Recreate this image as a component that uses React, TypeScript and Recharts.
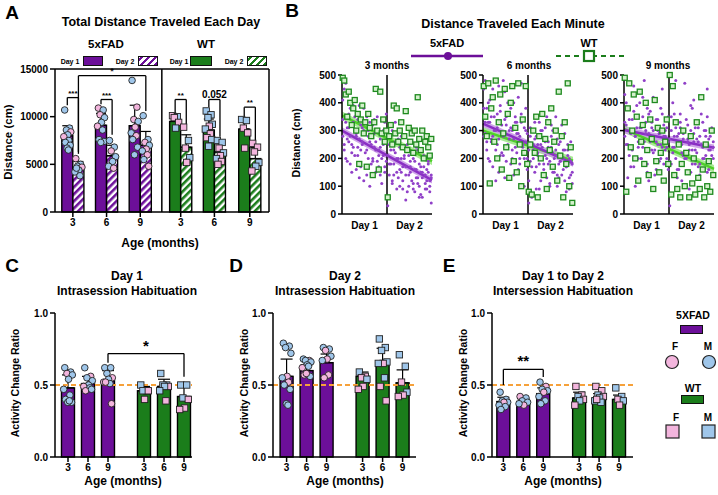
import React from "react";
import {
  ComposedChart,
  Bar,
  Scatter,
  Line,
  Area,
  XAxis,
  YAxis,
  ReferenceLine,
  ErrorBar,
} from "recharts";

const PURPLE = "#6c0f99";
const GREEN = "#1b7d1b";
const PINK = "#f3b5dd";
const BLUE = "#9fc6ea";
const ORANGE = "#f6a13a";
const FONT = "'Liberation Sans', Arial, sans-serif";

type Sex = "F" | "M";
type Pt = [number, Sex];

const AGE_LABELS = ["3", "6", "9", "3", "6", "9"];

// ---- Panel A: total distance per day (cm)
const A_POS = [0, 1, 2, 3.2, 4.2, 5.25];
const A_D1_MEAN = [8000, 9100, 9050, 9500, 8600, 8700];
const A_D1_SD = [1050, 1250, 2150, 550, 1150, 1200];
const A_D2_MEAN = [4700, 5900, 7000, 6800, 6300, 5600];
const A_D2_SD = [600, 1100, 1450, 1300, 850, 1150];

const A_D1_PTS: Pt[][] = [
  [[10700, "M"], [8800, "M"], [8600, "M"], [8400, "F"], [8100, "M"], [7900, "F"], [7500, "M"], [7300, "M"], [7000, "M"], [6700, "M"], [6500, "M"]],
  [[10900, "F"], [10700, "M"], [10200, "F"], [9900, "M"], [9400, "M"], [9000, "F"], [8600, "M"], [7600, "M"], [7400, "M"], [7300, "M"]],
  [[13800, "M"], [11000, "F"], [9700, "F"], [9500, "M"], [8900, "F"], [8300, "M"], [8000, "F"], [7600, "M"], [6800, "M"], [6000, "M"]],
  [[10100, "F"], [10000, "M"], [9900, "F"], [9400, "F"], [8800, "M"]],
  [[10600, "M"], [10200, "M"], [9900, "M"], [9200, "M"], [9000, "F"], [8700, "M"], [8200, "F"], [7800, "F"], [7600, "M"], [6900, "M"]],
  [[9700, "M"], [9600, "M"], [8800, "F"], [8300, "F"], [6700, "F"]],
];
const A_D2_PTS: Pt[][] = [
  [[5600, "F"], [5000, "M"], [4800, "M"], [4700, "F"], [4400, "M"], [4200, "M"], [3800, "M"], [4600, "M"]],
  [[7500, "M"], [6800, "M"], [6400, "F"], [5800, "M"], [5300, "M"], [4800, "M"], [4600, "F"]],
  [[10100, "M"], [7600, "M"], [7300, "F"], [7000, "M"], [6600, "F"], [6400, "M"], [6000, "F"], [5500, "M"], [4800, "F"]],
  [[8900, "F"], [7500, "M"], [6700, "F"], [5700, "M"], [5200, "F"]],
  [[7500, "M"], [7300, "M"], [6700, "F"], [6200, "M"], [5900, "F"], [5600, "M"], [5300, "F"], [5000, "F"]],
  [[7200, "F"], [6800, "F"], [6300, "F"], [5200, "M"], [4800, "M"], [4300, "F"]],
];

// horizontal spread of points inside a bar (fraction of half width)
const JITTER = [-0.6, 0.5, -0.2, 0.8, 0.1, -0.8, 0.35, -0.45, 0.65, -0.05, 0.25, -0.7, 0.55];

// ---- Panel B: distance per minute (cm), minutes 0-29 day 1, 30-59 day 2
const B3_FAD_A = [410, 250, 330, 190, 360, 280, 220, 390, 300, 160, 340, 270, 230, 310, 120, 290, 350, 200, 260, 180, 320, 240, 150, 300, 210, 270, 110, 250, 330, 190,
  60, 250, 180, 300, 140, 220, 90, 270, 160, 200, 120, 240, 170, 80, 210, 150, 260, 110, 190, 130, 230, 100, 170, 60, 200, 140, 90, 180, 120, 40];
const B3_FAD_B = [280, 450, 200, 310, 260, 380, 150, 240, 350, 290, 210, 130, 320, 250, 380, 170, 230, 300, 100, 280, 200, 340, 260, 190, 230, 140, 290, 210, 170, 360,
  30, 180, 280, 120, 230, 330, 150, 200, 100, 280, 170, 210, 50, 250, 140, 190, 220, 90, 160, 240, 130, 180, 70, 150, 210, 110, 160, 190, 80, 140];
const B3_FAD_C = [340, 230, 470, 270, 310, 180, 250, 330, 210, 280, 240, 390, 170, 260, 300, 220, 140, 280, 330, 250, 190, 290, 230, 350, 170, 240, 200, 300, 150, 260,
  210, 140, 230, 110, 180, 260, 200, 130, 240, 150, 90, 200, 140, 230, 100, 170, 120, 200, 80, 160, 110, 60, 150, 130, 170, 90, 120, 150, 100, 130];
const B3_WT = [490, 480, 430, 350, 440, 400, 320, 380, 410, 300, 360, 180, 340, 390, 290, 330, 170, 360, 310, 280, 140, 330, 450, 300, 160, 440, 290, 340, 260, 300,
  60, 280, 320, 250, 390, 290, 380, 260, 300, 330, 240, 280, 370, 230, 310, 260, 290, 220, 300, 250, 420, 270, 230, 300, 200, 260, 280, 240, 210, 270];

const B6_FAD_A = [450, 330, 260, 400, 190, 350, 280, 420, 230, 310, 150, 370, 290, 210, 440, 320, 250, 360, 180, 300, 400, 240, 330, 160, 280, 470, 220, 310, 260, 200,
  120, 280, 60, 230, 330, 170, 250, 90, 300, 200, 140, 260, 350, 180, 110, 240, 300, 150, 210, 270, 130, 190, 320, 160, 230, 80, 250, 200, 140, 180];
const B6_FAD_B = [280, 480, 380, 200, 330, 260, 450, 300, 120, 360, 270, 390, 220, 480, 340, 190, 400, 270, 310, 230, 140, 350, 290, 420, 200, 330, 250, 100, 380, 290,
  40, 190, 300, 250, 150, 280, 210, 330, 120, 240, 180, 310, 200, 260, 100, 280, 220, 170, 350, 140, 250, 190, 60, 230, 290, 170, 210, 130, 260, 110];
const B6_FAD_C = [380, 290, 230, 330, 410, 270, 170, 350, 300, 250, 460, 210, 320, 280, 130, 350, 240, 300, 380, 200, 270, 330, 220, 290, 180, 360, 240, 200, 300, 160,
  230, 310, 170, 200, 270, 90, 220, 180, 250, 300, 160, 210, 130, 240, 190, 320, 150, 200, 230, 100, 180, 260, 140, 200, 120, 170, 230, 90, 190, 150];
const B6_WT = [460, 350, 280, 470, 110, 380, 420, 260, 480, 200, 330, 430, 160, 290, 450, 240, 360, 130, 400, 460, 190, 310, 150, 470, 250, 100, 340, 220, 460, 180,
  80, 250, 70, 300, 220, 350, 60, 280, 200, 360, 140, 270, 90, 330, 230, 380, 170, 260, 300, 120, 440, 210, 280, 60, 330, 180, 470, 100, 240, 40];

const B9_FAD_A = [430, 320, 250, 380, 170, 300, 460, 280, 350, 200, 400, 310, 240, 480, 290, 150, 360, 270, 330, 220, 410, 260, 300, 190, 380, 240, 320, 280, 200, 350,
  270, 180, 400, 240, 310, 130, 290, 360, 220, 270, 470, 200, 320, 250, 150, 380, 290, 230, 330, 260, 180, 420, 240, 300, 210, 350, 270, 190, 310, 240];
const B9_FAD_B = [280, 400, 130, 340, 290, 230, 370, 100, 310, 260, 440, 200, 350, 180, 300, 380, 120, 260, 310, 420, 230, 160, 340, 290, 250, 450, 180, 300, 240, 160,
  30, 350, 220, 280, 480, 160, 250, 310, 120, 290, 200, 340, 260, 90, 300, 230, 410, 180, 270, 310, 140, 250, 330, 200, 280, 450, 160, 230, 300, 200];
const B9_FAD_C = [330, 250, 380, 210, 300, 340, 170, 280, 390, 240, 310, 200, 420, 260, 330, 180, 290, 370, 230, 300, 140, 340, 250, 290, 200, 360, 280, 230, 310, 260,
  190, 300, 240, 360, 200, 280, 160, 330, 250, 210, 300, 100, 270, 230, 390, 180, 260, 310, 220, 170, 280, 360, 200, 250, 300, 150, 230, 280, 210, 260];
const B9_WT = [490, 80, 380, 470, 240, 300, 430, 200, 350, 120, 440, 260, 320, 180, 400, 230, 140, 340, 270, 90, 410, 190, 310, 150, 220, 300, 120, 260, 340, 180,
  500, 70, 460, 140, 330, 90, 250, 60, 180, 300, 100, 220, 150, 60, 280, 110, 200, 70, 330, 130, 90, 420, 160, 60, 250, 100, 190, 80, 300, 140];

// regression fits at minute 0 and 60, with confidence band
const FIT_X = [0, 60];
const B3_FAD_FIT = [300, 122];
const B3_FAD_LO = [288, 110];
const B3_FAD_HI = [312, 134];
const B3_WT_FIT = [355, 190];
const B3_WT_LO = [341, 176];
const B3_WT_HI = [369, 204];
const B6_FAD_FIT = [325, 182];
const B6_FAD_LO = [313, 170];
const B6_FAD_HI = [337, 194];
const B6_WT_FIT = [300, 192];
const B6_WT_LO = [287, 178];
const B6_WT_HI = [313, 206];
const B9_FAD_FIT = [302, 238];
const B9_FAD_LO = [290, 226];
const B9_FAD_HI = [314, 250];
const B9_WT_FIT = [306, 162];
const B9_WT_LO = [292, 148];
const B9_WT_HI = [320, 176];

// ---- Panels C-E: activity change ratio
const H_POS = [0, 1, 2, 3.8, 4.8, 5.8];

const C_MEAN = [0.48, 0.51, 0.53, 0.46, 0.49, 0.42];
const C_SD = [0.09, 0.05, 0.07, 0.03, 0.05, 0.07];
const C_PTS: Pt[][] = [
  [[0.62, "M"], [0.59, "M"], [0.58, "F"], [0.57, "M"], [0.54, "M"], [0.47, "M"], [0.43, "M"], [0.4, "M"], [0.38, "M"], [0.38, "M"], [0.39, "M"]],
  [[0.62, "M"], [0.56, "F"], [0.55, "M"], [0.53, "M"], [0.5, "M"], [0.49, "F"], [0.48, "M"], [0.46, "F"], [0.47, "M"]],
  [[0.62, "M"], [0.62, "M"], [0.58, "M"], [0.55, "F"], [0.54, "M"], [0.52, "F"], [0.51, "M"], [0.52, "F"], [0.37, "F"]],
  [[0.5, "M"], [0.46, "F"], [0.46, "M"], [0.46, "F"], [0.4, "F"]],
  [[0.58, "M"], [0.5, "M"], [0.5, "M"], [0.49, "F"], [0.49, "M"], [0.46, "M"], [0.39, "F"]],
  [[0.5, "M"], [0.5, "M"], [0.41, "M"], [0.4, "F"], [0.34, "F"], [0.33, "F"]],
];

const D_MEAN = [0.56, 0.6, 0.655, 0.56, 0.655, 0.515];
const D_SD = [0.12, 0.04, 0.06, 0.03, 0.1, 0.09];
const D_PTS: Pt[][] = [
  [[0.79, "M"], [0.77, "M"], [0.76, "M"], [0.72, "M"], [0.56, "F"], [0.55, "M"], [0.52, "F"], [0.5, "M"], [0.47, "M"], [0.37, "M"], [0.36, "M"]],
  [[0.68, "M"], [0.67, "F"], [0.67, "M"], [0.66, "M"], [0.64, "M"], [0.62, "F"], [0.63, "M"], [0.57, "F"], [0.56, "M"], [0.58, "F"]],
  [[0.76, "M"], [0.75, "M"], [0.74, "F"], [0.7, "M"], [0.68, "F"], [0.67, "M"], [0.57, "F"], [0.55, "F"]],
  [[0.59, "M"], [0.56, "F"], [0.55, "F"], [0.54, "M"], [0.49, "F"], [0.47, "F"]],
  [[0.82, "M"], [0.76, "M"], [0.74, "M"], [0.66, "M"], [0.65, "F"], [0.65, "M"], [0.55, "M"], [0.49, "F"], [0.39, "F"]],
  [[0.71, "M"], [0.63, "M"], [0.52, "F"], [0.45, "M"], [0.43, "F"], [0.42, "F"]],
];

const E_MEAN = [0.385, 0.385, 0.44, 0.41, 0.41, 0.4];
const E_SD = [0.03, 0.02, 0.04, 0.04, 0.03, 0.03];
const E_PTS: Pt[][] = [
  [[0.45, "M"], [0.4, "M"], [0.39, "M"], [0.38, "M"], [0.38, "F"], [0.36, "M"], [0.35, "M"], [0.33, "M"]],
  [[0.42, "F"], [0.41, "M"], [0.39, "M"], [0.38, "M"], [0.36, "F"], [0.37, "M"]],
  [[0.52, "M"], [0.49, "F"], [0.47, "M"], [0.46, "M"], [0.45, "F"], [0.42, "M"], [0.39, "M"], [0.37, "M"]],
  [[0.49, "F"], [0.43, "F"], [0.42, "M"], [0.4, "F"], [0.39, "M"], [0.36, "F"]],
  [[0.49, "F"], [0.46, "F"], [0.43, "M"], [0.42, "F"], [0.41, "M"], [0.39, "M"], [0.38, "M"], [0.4, "F"]],
  [[0.48, "M"], [0.42, "M"], [0.4, "F"], [0.39, "M"], [0.36, "F"]],
];

// ---------- helpers
const tickStyle = { fontSize: 10, fontWeight: 700, fill: "#000" };
const axisLine = { stroke: "#000", strokeWidth: 1.5 };

function Txt({ x, y, size = 12, rot, children }: any) {
  return (
    <div
      style={{
        position: "absolute",
        left: x,
        top: y,
        transform: `translate(-50%,-50%)${rot ? " rotate(-90deg)" : ""}`,
        fontSize: size,
        fontWeight: 700,
        whiteSpace: "nowrap",
        lineHeight: 1,
      }}
    >
      {children}
    </div>
  );
}

// numeric x axis gives the bar no band width, so draw it at a fixed width around its centre
function barShape(w: number) {
  return (p: any) => {
    const cx = p.x + (p.width || 0) / 2;
    const y = Math.min(p.y, p.y + p.height);
    const h = Math.abs(p.height);
    return <rect x={cx - w / 2} y={y} width={w} height={h} fill={p.payload?.fill ?? p.fill} stroke="#000" strokeWidth={1.4} />;
  };
}

function Sym(props: any) {
  const { cx, cy, payload } = props;
  const fill = payload.sex === "F" ? PINK : BLUE;
  if (payload.geno === "WT")
    return <rect x={cx - 3.2} y={cy - 3.2} width={6.4} height={6.4} fill={fill} stroke="#222" strokeWidth={0.9} />;
  return <circle cx={cx} cy={cy} r={3.3} fill={fill} stroke="#222" strokeWidth={0.9} />;
}

function Dot(props: any) {
  return <circle cx={props.cx} cy={props.cy} r={1.5} fill="#9040c8" />;
}

function Sq(props: any) {
  return <rect x={props.cx - 2.5} y={props.cy - 2.5} width={5} height={5} fill="#d4f0cc" stroke="#1f8a1f" strokeWidth={1.3} />;
}

function bracket(key: string, xl: number, xr: number, top: number, yl: number, yr: number, text: string, size: number) {
  const st = { stroke: "#000", strokeWidth: 1.3, ifOverflow: "visible" as const };
  return [
    <ReferenceLine
      key={key + "t"}
      segment={[{ x: xl, y: top }, { x: xr, y: top }]}
      {...st}
      label={{ value: text, position: "top", fontSize: size, fontWeight: 700, fill: "#000", offset: size > 10 ? 3 : 2 }}
    />,
    <ReferenceLine key={key + "l"} segment={[{ x: xl, y: top }, { x: xl, y: yl }]} {...st} />,
    <ReferenceLine key={key + "r"} segment={[{ x: xr, y: top }, { x: xr, y: yr }]} {...st} />,
  ];
}

function groupPoints(pts: Pt[][], pos: number[], shift: number, spread: number) {
  const out: any[] = [];
  pts.forEach((g, gi) =>
    g.forEach(([v, sex], i) =>
      out.push({ x: pos[gi] + shift + JITTER[i % JITTER.length] * spread, y: v, sex, geno: gi < 3 ? "FAD" : "WT" })
    )
  );
  return out;
}

// ---------- Panel A
function PanelA() {
  const rows: any[] = [];
  A_POS.forEach((p, i) => {
    rows.push({ x: p - 0.165, y: A_D1_MEAN[i], err: [0, A_D1_SD[i]], fill: i < 3 ? PURPLE : GREEN });
    rows.push({ x: p + 0.165, y: A_D2_MEAN[i], err: [0, A_D2_SD[i]], fill: i < 3 ? "url(#hatchP)" : "url(#hatchG)" });
  });
  const pts = [...groupPoints(A_D1_PTS, A_POS, -0.165, 0.13), ...groupPoints(A_D2_PTS, A_POS, 0.165, 0.13)];
  return (
    <div style={{ position: "absolute", left: 0, top: 40 }}>
      <ComposedChart width={275} height={215} data={rows} margin={{ top: 29, right: 6, bottom: 23, left: 0 }}>
        <defs>
          <pattern id="hatchP" patternUnits="userSpaceOnUse" width="5" height="5" patternTransform="rotate(45)">
            <rect width="5" height="5" fill="#fff" />
            <rect width="2.6" height="5" fill={PURPLE} />
          </pattern>
          <pattern id="hatchG" patternUnits="userSpaceOnUse" width="5" height="5" patternTransform="rotate(45)">
            <rect width="5" height="5" fill="#fff" />
            <rect width="2.6" height="5" fill={GREEN} />
          </pattern>
        </defs>
        <XAxis
          type="number"
          dataKey="x"
          domain={[-0.53, 5.82]}
          ticks={A_POS}
          interval={0}
          tickFormatter={(v) => AGE_LABELS[A_POS.indexOf(v)]}
          tick={tickStyle}
          tickSize={5}
          axisLine={axisLine}
          tickLine={axisLine}
          height={20}
        />
        <YAxis
          type="number"
          dataKey="y"
          domain={[0, 15000]}
          ticks={[0, 5000, 10000, 15000]}
          interval={0}
          tick={tickStyle}
          tickSize={5}
          axisLine={axisLine}
          tickLine={axisLine}
          width={55}
        />
        <ReferenceLine y={15000} stroke="#000" strokeWidth={1.5} />
        <ReferenceLine x={5.82} stroke="#000" strokeWidth={1.5} />
        <ReferenceLine x={2.64} stroke="#000" strokeWidth={1.5} />
        <Bar dataKey="y" barSize={11} shape={barShape(11)} isAnimationActive={false}>
          <ErrorBar dataKey="err" width={5} stroke="#000" strokeWidth={1.2} direction="y" />
        </Bar>
        <Scatter data={pts} shape={Sym} isAnimationActive={false} />
        {bracket("a1", -0.165, 0.165, 12000, 11200, 6300, "***", 8)}
        {bracket("a2", 0.835, 1.165, 11800, 11300, 8100, "***", 8)}
        {bracket("a3", 0.165, 2.165, 14300, 6100, 10600, "*", 9)}
        {bracket("a4", 3.035, 3.365, 11800, 10500, 9200, "**", 8)}
        {bracket("a5", 4.035, 4.365, 11800, 11000, 7900, "0.052", 10)}
        {bracket("a6", 5.085, 5.415, 11000, 10000, 7500, "**", 8)}
      </ComposedChart>
    </div>
  );
}

// ---------- Panel B subplot
function fitRows(fit: number[], lo: number[], hi: number[]) {
  return FIT_X.map((x, i) => ({ x, y: fit[i], band: [lo[i], hi[i]] }));
}

function BSub({ left, fad, wt, fadFit, wtFit }: any) {
  const toPts = (arr: number[]) => arr.map((y, i) => ({ x: i + 0.5, y }));
  return (
    <div style={{ position: "absolute", left, top: 60 }}>
      <ComposedChart width={123} height={175} margin={{ top: 15, right: 3, bottom: 1, left: 0 }}>
        <XAxis
          type="number"
          dataKey="x"
          domain={[0, 60]}
          ticks={[15, 45]}
          interval={0}
          tickFormatter={(v) => (v === 15 ? "Day 1" : "Day 2")}
          tick={tickStyle}
          tickLine={false}
          axisLine={axisLine}
          height={20}
        />
        <YAxis
          type="number"
          dataKey="y"
          domain={[0, 500]}
          ticks={[0, 100, 200, 300, 400, 500]}
          interval={0}
          tick={tickStyle}
          tickSize={4}
          axisLine={axisLine}
          tickLine={axisLine}
          width={30}
        />
        <ReferenceLine x={30} stroke="#000" strokeWidth={1.5} />
        {fad.map((arr: number[], i: number) => (
          <Scatter key={i} data={toPts(arr)} shape={Dot} isAnimationActive={false} />
        ))}
        <Scatter data={toPts(wt)} shape={Sq} isAnimationActive={false} />
        <Area data={wtFit} dataKey="band" type="linear" stroke="none" fill="#9fe88a" fillOpacity={0.9} isAnimationActive={false} />
        <Line data={wtFit} dataKey="y" type="linear" stroke="#4fcf2a" strokeWidth={2.5} dot={false} isAnimationActive={false} />
        <Area data={fadFit} dataKey="band" type="linear" stroke="none" fill="#c99ae6" fillOpacity={0.9} isAnimationActive={false} />
        <Line data={fadFit} dataKey="y" type="linear" stroke="#8a2ec4" strokeWidth={2.5} dot={false} isAnimationActive={false} />
      </ComposedChart>
    </div>
  );
}

// ---------- Panels C-E
function HabitPanel({ left, domain, means, sds, pts, children }: any) {
  const rows = H_POS.map((p, i) => ({ x: p, y: means[i], err: [0, sds[i]], fill: i < 3 ? PURPLE : GREEN }));
  const dots = groupPoints(pts, H_POS, 0, 0.27);
  return (
    <div style={{ position: "absolute", left, top: 300 }}>
      <ComposedChart width={domain.width} height={178} data={rows} margin={{ top: 13, right: 3, bottom: 3, left: 0 }}>
        <XAxis
          type="number"
          dataKey="x"
          domain={domain.x}
          ticks={H_POS}
          interval={0}
          tickFormatter={(v) => AGE_LABELS[H_POS.indexOf(v)]}
          tick={tickStyle}
          tickSize={5}
          axisLine={axisLine}
          tickLine={axisLine}
          height={18}
        />
        <YAxis
          type="number"
          dataKey="y"
          domain={[0, 1]}
          ticks={[0, 0.5, 1]}
          interval={0}
          tickFormatter={(v) => v.toFixed(1)}
          tick={tickStyle}
          tickSize={5}
          axisLine={axisLine}
          tickLine={axisLine}
          width={55}
        />
        <Bar dataKey="y" barSize={13} shape={barShape(13)} isAnimationActive={false}>
          <ErrorBar dataKey="err" width={6} stroke="#000" strokeWidth={1.2} direction="y" />
        </Bar>
        <ReferenceLine y={0.5} stroke={ORANGE} strokeWidth={2} strokeDasharray="5 3" />
        <Scatter data={dots} shape={Sym} isAnimationActive={false} />
        {children}
      </ComposedChart>
    </div>
  );
}

function Swatch({ x, y, w, h, fill }: any) {
  return <div style={{ position: "absolute", left: x, top: y, width: w, height: h, background: fill, border: "1.5px solid #111", boxSizing: "border-box" }} />;
}

function HatchSwatch({ x, y, color }: any) {
  return (
    <div
      style={{
        position: "absolute",
        left: x,
        top: y,
        width: 20,
        height: 10,
        boxSizing: "border-box",
        border: "1.5px solid #111",
        background: `repeating-linear-gradient(-45deg, ${color} 0 2.5px, #fff 2.5px 5px)`,
      }}
    />
  );
}

export default function App() {
  return (
    <div style={{ position: "relative", width: 718, height: 495, background: "#fff", fontFamily: FONT, color: "#000", overflow: "hidden" }}>
      <style>{"body{margin:0}"}</style>

      {/* panel letters */}
      <Txt x={12} y={12} size={19}>A</Txt>
      <Txt x={292} y={10} size={19}>B</Txt>
      <Txt x={12} y={265} size={19}>C</Txt>
      <Txt x={236} y={265} size={19}>D</Txt>
      <Txt x={449} y={265} size={19}>E</Txt>

      {/* Panel A */}
      <Txt x={161} y={22} size={12.5}>Total Distance Traveled Each Day</Txt>
      <Txt x={106} y={45} size={11.5}>5xFAD</Txt>
      <Txt x={206} y={45} size={11.5}>WT</Txt>
      <Txt x={70} y={61} size={7}>Day 1</Txt>
      <Swatch x={83} y={56} w={20} h={10} fill={PURPLE} />
      <Txt x={125} y={61} size={7}>Day 2</Txt>
      <HatchSwatch x={138} y={56} color={PURPLE} />
      <Txt x={179} y={61} size={7}>Day 1</Txt>
      <Swatch x={190} y={56} w={22} h={10} fill={GREEN} />
      <Txt x={234} y={61} size={7}>Day 2</Txt>
      <HatchSwatch x={247} y={56} color={GREEN} />
      <Txt x={9} y={142} size={11.5} rot>Distance (cm)</Txt>
      <Txt x={160} y={243} size={12}>Age (months)</Txt>
      <PanelA />

      {/* Panel B */}
      <Txt x={513} y={24} size={12.5}>Distance Traveled Each Minute</Txt>
      <Txt x={447} y={43} size={11}>5xFAD</Txt>
      <Txt x={589} y={43} size={11}>WT</Txt>
      <svg style={{ position: "absolute", left: 400, top: 48 }} width={240} height={16}>
        <line x1={11} y1={8} x2={83} y2={8} stroke={PURPLE} strokeWidth={2.5} />
        <circle cx={48} cy={8} r={4} fill={PURPLE} />
        <line x1={156} y1={8} x2={225} y2={8} stroke={GREEN} strokeWidth={1.8} strokeDasharray="5 4" />
        <rect x={184} y={3} width={10} height={10} fill="#fff" stroke={GREEN} strokeWidth={2.2} />
      </svg>
      <Txt x={387} y={66} size={10}>3 months</Txt>
      <Txt x={529} y={66} size={10}>6 months</Txt>
      <Txt x={668} y={66} size={10}>9 months</Txt>
      <Txt x={296} y={143} size={10.5} rot>Distance (cm)</Txt>
      <BSub left={312} fad={[B3_FAD_A, B3_FAD_B, B3_FAD_C]} wt={B3_WT} fadFit={fitRows(B3_FAD_FIT, B3_FAD_LO, B3_FAD_HI)} wtFit={fitRows(B3_WT_FIT, B3_WT_LO, B3_WT_HI)} />
      <BSub left={453} fad={[B6_FAD_A, B6_FAD_B, B6_FAD_C]} wt={B6_WT} fadFit={fitRows(B6_FAD_FIT, B6_FAD_LO, B6_FAD_HI)} wtFit={fitRows(B6_WT_FIT, B6_WT_LO, B6_WT_HI)} />
      <BSub left={594} fad={[B9_FAD_A, B9_FAD_B, B9_FAD_C]} wt={B9_WT} fadFit={fitRows(B9_FAD_FIT, B9_FAD_LO, B9_FAD_HI)} wtFit={fitRows(B9_WT_FIT, B9_WT_LO, B9_WT_HI)} />

      {/* Panel C */}
      <Txt x={127} y={276} size={12}>Day 1</Txt>
      <Txt x={127} y={291} size={12}>Intrasession Habituation</Txt>
      <Txt x={15} y={383} size={10.5} rot>Activity Change Ratio</Txt>
      <Txt x={123} y={481} size={12}>Age (months)</Txt>
      <HabitPanel left={0} domain={{ x: [-0.65, 6.2], width: 195 }} means={C_MEAN} sds={C_SD} pts={C_PTS}>
        {bracket("c1", 2, 5.8, 0.718, 0.655, 0.557, "*", 15)}
      </HabitPanel>

      {/* Panel D */}
      <Txt x={345} y={276} size={12}>Day 2</Txt>
      <Txt x={345} y={291} size={12}>Intrasession Habituation</Txt>
      <Txt x={244} y={383} size={10.5} rot>Activity Change Ratio</Txt>
      <Txt x={345} y={481} size={12}>Age (months)</Txt>
      <HabitPanel left={218} domain={{ x: [-0.68, 6.47], width: 201 }} means={D_MEAN} sds={D_SD} pts={D_PTS} />

      {/* Panel E */}
      <Txt x={563} y={276} size={12}>Day 1 to Day 2</Txt>
      <Txt x={563} y={291} size={12}>Intersession Habituation</Txt>
      <Txt x={463} y={383} size={10.5} rot>Activity Change Ratio</Txt>
      <Txt x={563} y={481} size={12}>Age (months)</Txt>
      <HabitPanel left={437} domain={{ x: [-0.57, 6.5], width: 199 }} means={E_MEAN} sds={E_SD} pts={E_PTS}>
        {bracket("e1", 0, 2, 0.608, 0.5, 0.555, "**", 15)}
      </HabitPanel>

      {/* sex / genotype legend */}
      <Txt x={693} y={315} size={10.5}>5XFAD</Txt>
      <Swatch x={680} y={325} w={23} h={9} fill={PURPLE} />
      <Txt x={675} y={347} size={10}>F</Txt>
      <Txt x={708} y={347} size={10}>M</Txt>
      <svg style={{ position: "absolute", left: 660, top: 352 }} width={58} height={100}>
        <circle cx={12} cy={10} r={6.5} fill={PINK} stroke="#222" strokeWidth={1.2} />
        <circle cx={49} cy={10} r={6.5} fill={BLUE} stroke="#222" strokeWidth={1.2} />
        <rect x={6} y={73} width={13} height={13} fill={PINK} stroke="#222" strokeWidth={1.2} />
        <rect x={42} y={73} width={13} height={13} fill={BLUE} stroke="#222" strokeWidth={1.2} />
      </svg>
      <Txt x={693} y={388} size={10.5}>WT</Txt>
      <Swatch x={681} y={395} w={23} h={9} fill={GREEN} />
      <Txt x={676} y={418} size={10}>F</Txt>
      <Txt x={708} y={418} size={10}>M</Txt>
    </div>
  );
}
